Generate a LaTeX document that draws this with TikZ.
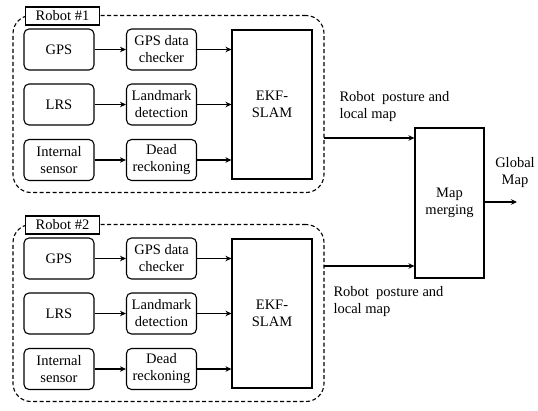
\documentclass[tikz,border=0pt]{standalone}
\usepackage{fontspec}
\setmainfont{Liberation Serif}
\usetikzlibrary{arrows.meta}

\tikzset{
  blk/.style={draw,line width=1.1pt,rounded corners=5pt,minimum width=70pt,minimum height=41pt,align=center,inner sep=1pt},
  slam/.style={draw,line width=1.1pt,minimum width=80pt,minimum height=149pt,align=center},
  merge/.style={draw,line width=1.1pt,minimum width=69pt,minimum height=150pt,align=center},
  robotgroup/.style={draw,line width=1.1pt,dash pattern=on 4pt off 2.5pt,rounded corners=18pt,minimum width=311pt,minimum height=177pt},
  tag/.style={draw,line width=1.1pt,fill=white,minimum width=74pt,minimum height=18pt,inner sep=0pt},
  arr/.style={line width=1.1pt,-{Stealth[length=6pt,width=5.5pt]}},
  every node/.style={font=\rmfamily\fontsize{14.5}{17}\selectfont}
}

\begin{document}
\begin{tikzpicture}[x=1pt,y=1pt]
\useasboundingbox (0,0) rectangle (538,-410);

% the two robots
\foreach \r/\dy in {1/0,2/209}{
  \node[robotgroup] (grp\r) at (168.5,{-104-\dy}) {};
  \node[tag] (tag\r) at (62.5,{-16-\dy}) {Robot \#\r};

  \node[blk] (gps\r) at (59,{-49.5-\dy}) {GPS};
  \node[blk] (lrs\r) at (59,{-104.5-\dy}) {LRS};
  \node[blk] (ins\r) at (59,{-160-\dy}) {Internal\\sensor};

  \node[blk] (chk\r) at (161.5,{-49.5-\dy}) {GPS data\\checker};
  \node[blk] (lmk\r) at (161.5,{-104.5-\dy}) {Landmark\\detection};
  \node[blk] (ded\r) at (161.5,{-160-\dy}) {Dead\\reckoning};

  \node[slam] (ekf\r) at (272,{-104.5-\dy}) {EKF-\\SLAM};

  \draw[arr] (gps\r) -- (chk\r);
  \draw[arr] (lrs\r) -- (lmk\r);
  \draw[arr] (ins\r) -- (ded\r);
  \draw[arr] (chk\r) -- (chk\r -| ekf\r.west);
  \draw[arr] (lmk\r) -- (lmk\r -| ekf\r.west);
  \draw[arr] (ded\r) -- (ded\r -| ekf\r.west);
}

% merging
\node[merge] (mrg) at (449.5,-203) {Map\\merging};

\coordinate (out1) at (324,-138);
\coordinate (out2) at (324,-266);
\draw[arr] (out1) -- (out1 -| mrg.west);
\draw[arr] (out2) -- (out2 -| mrg.west);

\node[anchor=north west,align=left] (lbl1) at (336,-88) {Robot\ \ posture and\\local map};
\node[anchor=north west,align=left] (lbl2) at (330,-283) {Robot\ \ posture and\\local map};

% global map
\coordinate (gmap) at (517,-202);
\draw[arr] (mrg.east |- gmap) -- (gmap);
\node[align=center] (glbl) at (515,-173) {Global\\Map};

\end{tikzpicture}
\end{document}
